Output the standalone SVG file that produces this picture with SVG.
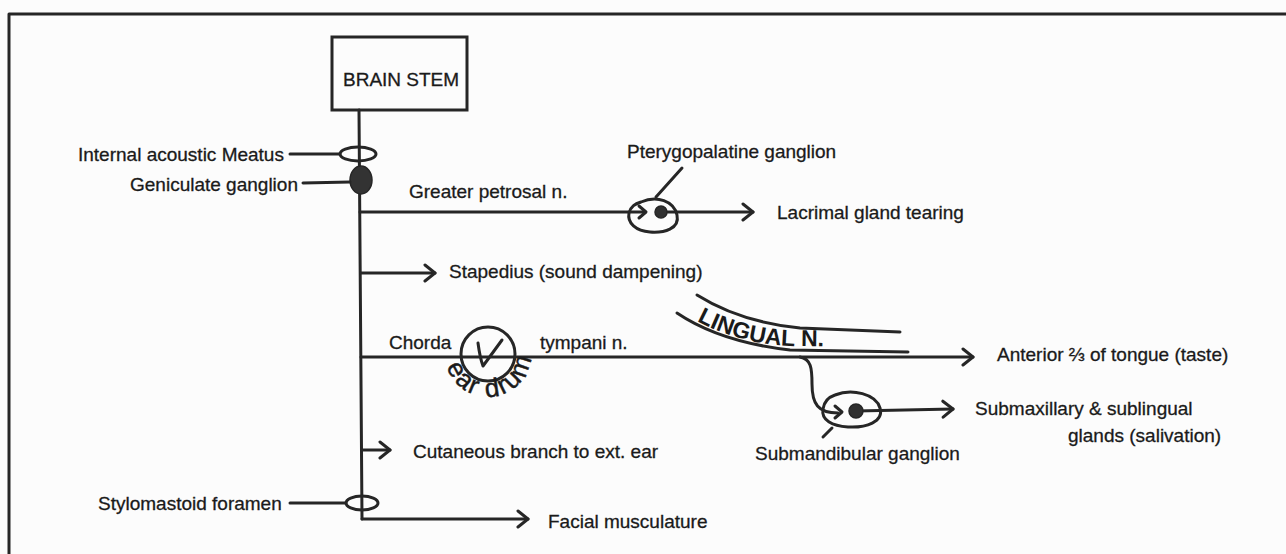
<svg xmlns="http://www.w3.org/2000/svg" width="1286" height="554" viewBox="0 0 1286 554">
  <style>
    .ln { fill: none; stroke: #262626; stroke-width: 3; stroke-linecap: round; stroke-linejoin: round; }
    .lbl { font-family: "Liberation Sans", Arial, sans-serif; font-size: 19px; fill: #1a1a1a; stroke: #1a1a1a; stroke-width: 0.3; }
    .dot { fill: #303030; stroke: #262626; stroke-width: 1.5; }
  </style>
  <defs>
    <marker id="arr" markerWidth="16" markerHeight="20" refX="12" refY="10" orient="auto" markerUnits="userSpaceOnUse">
      <path d="M2,2 L12,10 L2,18" fill="none" stroke="#262626" stroke-width="3" stroke-linecap="round" stroke-linejoin="round"/>
    </marker>
    <!-- baseline arcs for the curved lettering -->
    <path id="drumArc" d="M 445.65 346.53 A 43 43 0 1 0 530.35 346.53"/>
    <path id="lingualArc" d="M 688 316 Q 735 344 792 346 L 880 347"/>
  </defs>

  <rect width="1286" height="554" fill="#fcfcfc"/>

  <!-- page frame -->
  <path class="ln" d="M 9 554 L 9 14 L 1286 14"/>

  <g id="brain-stem">
    <rect x="332" y="37" width="135" height="73" fill="none" stroke="#262626" stroke-width="3"/>
    <text class="lbl" x="343" y="86" font-size="18.5">BRAIN STEM</text>
  </g>

  <g id="connectors">
    <!-- main trunk of the facial nerve -->
    <path class="ln" d="M 359 110 L 362 519"/>
    <!-- greater petrosal n. -->
    <path class="ln" d="M 360 212 L 645 212"/>
    <path class="ln" d="M 661 212 L 753 212" marker-end="url(#arr)"/>
    <!-- stapedius -->
    <path class="ln" d="M 361 273 L 435 273" marker-end="url(#arr)"/>
    <!-- chorda tympani -->
    <path class="ln" d="M 361 357 L 973 357" marker-end="url(#arr)"/>
    <!-- branch to submandibular ganglion -->
    <path class="ln" d="M 800 357 C 811 359 812 368 812 384 C 812 404 818 413 838 413"/>
    <path class="ln" d="M 856 411 L 953 409" marker-end="url(#arr)"/>
    <!-- cutaneous branch -->
    <path class="ln" d="M 362 450 L 390 450" marker-end="url(#arr)"/>
    <!-- facial musculature -->
    <path class="ln" d="M 362 519 L 528 519" marker-end="url(#arr)"/>
  </g>

  <g id="internal-acoustic-meatus">
    <ellipse class="ln" cx="358" cy="154" rx="18" ry="7"/>
    <path class="ln" d="M 290 154 L 340 154"/>
    <text class="lbl" x="78" y="161">Internal acoustic Meatus</text>
  </g>

  <g id="geniculate-ganglion">
    <ellipse cx="361" cy="180" rx="11" ry="14" fill="#333333" stroke="#262626" stroke-width="1.5"/>
    <path class="ln" d="M 303 183 L 350 182"/>
    <text class="lbl" x="130" y="191">Geniculate ganglion</text>
  </g>

  <g id="greater-petrosal">
    <text class="lbl" x="409" y="198">Greater petrosal n.</text>
  </g>

  <g id="pterygopalatine-ganglion">
    <path class="ln" d="M 641 202 C 657 195 674 201 677 215 C 680 229 664 233 650 232 C 636 231 627 223 629 213 C 631 206 635 204 641 202 Z"/>
    <path class="ln" d="M 639 206 L 646 212 L 639 218"/>
    <circle class="dot" cx="661" cy="212" r="6"/>
    <path class="ln" d="M 656 197 L 682 168"/>
    <text class="lbl" x="627" y="158">Pterygopalatine ganglion</text>
  </g>

  <g id="lacrimal-gland">
    <text class="lbl" x="777" y="219">Lacrimal gland tearing</text>
  </g>

  <g id="stapedius">
    <text class="lbl" x="449" y="278">Stapedius (sound dampening)</text>
  </g>

  <g id="chorda-tympani">
    <text class="lbl" x="389" y="349">Chorda</text>
    <text class="lbl" x="540" y="349">tympani n.</text>
  </g>

  <g id="ear-drum">
    <circle class="ln" cx="488" cy="354" r="27"/>
    <path class="ln" d="M 478 343 Q 480 358 483 366 L 502 340"/>
    <text font-family="'Liberation Sans', Arial, sans-serif" font-size="26" fill="#1a1a1a" stroke="#1a1a1a" stroke-width="0.5" letter-spacing="2">
      <textPath href="#drumArc" startOffset="20">ear drum</textPath>
    </text>
  </g>

  <g id="lingual-nerve">
    <path class="ln" d="M 697 295 Q 740 322 800 328 L 900 332"/>
    <path class="ln" d="M 677 313 Q 720 342 790 350 L 908 352"/>
    <text font-family="'Liberation Sans', Arial, sans-serif" font-size="23" font-weight="bold" fill="#1a1a1a">
      <textPath href="#lingualArc" startOffset="10">LINGUAL N.</textPath>
    </text>
  </g>

  <g id="anterior-tongue">
    <text class="lbl" x="997" y="361">Anterior ⅔ of tongue (taste)</text>
  </g>

  <g id="submandibular-ganglion">
    <path class="ln" d="M 835 395 C 852 388 876 394 880 408 C 884 422 866 428 848 427 C 832 426 821 420 823 409 C 824 402 829 397 835 395 Z"/>
    <path class="ln" d="M 835 406 L 842 412 L 835 418"/>
    <circle class="dot" cx="856" cy="411" r="7"/>
    <path class="ln" d="M 832 428 L 823 437"/>
    <text class="lbl" x="755" y="460">Submandibular ganglion</text>
  </g>

  <g id="salivary-glands">
    <text class="lbl" x="975" y="415">Submaxillary &amp; sublingual</text>
    <text class="lbl" x="1068" y="442">glands (salivation)</text>
  </g>

  <g id="cutaneous-branch">
    <text class="lbl" x="413" y="458">Cutaneous branch to ext. ear</text>
  </g>

  <g id="stylomastoid-foramen">
    <ellipse class="ln" cx="362" cy="503" rx="16" ry="7"/>
    <path class="ln" d="M 290 503 L 346 503"/>
    <text class="lbl" x="98" y="510">Stylomastoid foramen</text>
  </g>

  <g id="facial-musculature">
    <text class="lbl" x="548" y="528">Facial musculature</text>
  </g>
</svg>
